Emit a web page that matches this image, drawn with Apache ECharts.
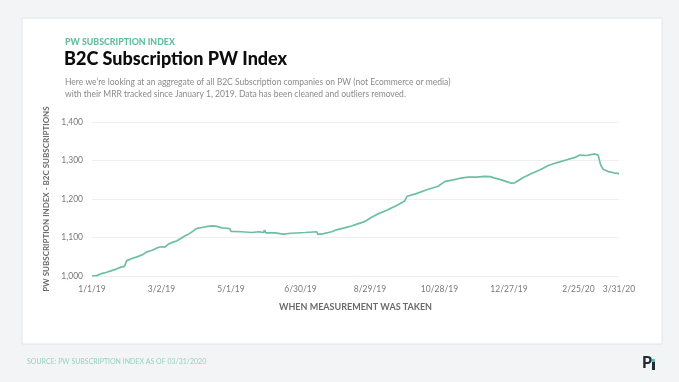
<!DOCTYPE html>
<html>
<head>
<meta charset="utf-8">
<script src="https://cdn.jsdelivr.net/npm/echarts@6/dist/echarts.min.js"></script>
<style>
html,body{margin:0;padding:0;background:#f3f4f6;}
#chart{width:679px;height:382px;}
</style>
</head>
<body>
<div id="chart"></div>
<script>
// ---- data ----
var dates = [
 '2019-01-01','2019-01-05','2019-01-09','2019-01-13','2019-01-18','2019-01-22','2019-01-26','2019-01-29','2019-01-31',
 '2019-02-05','2019-02-10','2019-02-14','2019-02-17','2019-02-22','2019-02-27','2019-03-02','2019-03-05','2019-03-08',
 '2019-03-12','2019-03-15','2019-03-19','2019-03-22','2019-03-26','2019-03-29','2019-04-01','2019-04-06','2019-04-11',
 '2019-04-15','2019-04-19','2019-04-23','2019-04-27','2019-04-30','2019-05-01','2019-05-10','2019-05-19','2019-05-25',
 '2019-05-29','2019-05-30','2019-05-31','2019-06-08','2019-06-15','2019-06-22','2019-07-04','2019-07-14','2019-07-15',
 '2019-07-20','2019-07-27','2019-07-31','2019-08-07','2019-08-13','2019-08-19','2019-08-23','2019-08-26','2019-08-30',
 '2019-09-04','2019-09-12','2019-09-21','2019-09-28','2019-09-30','2019-10-08','2019-10-17','2019-10-27','2019-10-30',
 '2019-11-02','2019-11-08','2019-11-15','2019-11-22','2019-11-29','2019-12-06','2019-12-11','2019-12-14','2019-12-19',
 '2019-12-25','2019-12-29','2020-01-01','2020-01-08','2020-01-16','2020-01-23','2020-01-30','2020-02-06','2020-02-15',
 '2020-02-22','2020-02-26','2020-03-03','2020-03-10','2020-03-13','2020-03-15','2020-03-17','2020-03-22','2020-03-28',
 '2020-03-31'
];
var values = [
 1000,1001,1006,1009,1014,1018,1023,1025,1040,
 1046,1051,1056,1062,1067,1074,1076,1075,1083,
 1088,1091,1098,1104,1110,1116,1123,1126,1129,
 1130,1129,1125,1124,1123,1116,1115,1113,1115,
 1113,1119,1112,1112,1109,1111,1113,1115,1108,
 1110,1115,1120,1125,1130,1136,1140,1144,1152,
 1160,1170,1183,1195,1207,1214,1224,1233,1240,
 1246,1249,1254,1257,1257,1259,1258,1255,1251,
 1245,1241,1242,1255,1267,1276,1287,1294,1302,
 1308,1314,1313,1317,1314,1290,1278,1271,1267,
 1266
];
var xTickLabels = ['1/1/19','3/2/19','5/1/19','6/30/19','8/29/19','10/28/19','12/27/19','2/25/20','3/31/20'];
var yTicks = [1000, 1100, 1200, 1300, 1400];

var startDate = '2019-01-01';
var endDate = '2020-03-31';

function dayOf(s) {
  var p = s.split('-');
  return Math.round((Date.UTC(+p[0], +p[1]-1, +p[2]) - Date.UTC(2019,0,1)) / 864e5);
}
function dayOfLabel(l) {
  var p = l.split('/');
  return dayOf((2000 + +p[2]) + '-' + p[0] + '-' + p[1]);
}
var tickMap = {};
xTickLabels.forEach(function (l) { tickMap[dayOfLabel(l)] = l; });

var seriesData = dates.map(function (d, i) { return [dayOf(d), values[i]]; });

var FONT = 'Lato';
var chart = echarts.init(document.getElementById('chart'), null, {renderer: 'canvas'});
chart.setOption({
  backgroundColor: '#f3f4f6',
  animation: false,
  grid: {left: 92, right: 60, top: 122, bottom: 106},
  graphic: [
    {type: 'rect', z: -10, shape: {x: 22, y: 18, width: 640, height: 326},
     style: {fill: '#ffffff', stroke: '#e2e4e7', lineWidth: 1}},
    {type: 'text', left: 65, top: 38, style: {text: 'PW SUBSCRIPTION INDEX', fill: '#5fbf9f',
      font: '900 8.8px ' + FONT}},
    {type: 'text', left: 64, top: 50, style: {text: 'B2C Subscription PW Index', fill: '#0d0d0d',
      font: '900 18px ' + FONT}},
    {type: 'text', left: 65, top: 76, style: {text: 'Here we\u2019re looking at an aggregate of all B2C Subscription companies on PW (not Ecommerce or media)\nwith their MRR tracked since January 1, 2019. Data has been cleaned and outliers removed.',
      fill: '#8a8a8a', font: '8.5px ' + FONT, lineHeight: 12}},
    {type: 'text', left: 27, top: 358, style: {text: 'SOURCE: PW SUBSCRIPTION INDEX AS OF 03/31/2020', fill: '#93d3bd',
      font: '7px ' + FONT}},
    {type: 'text', left: 642, top: 355, style: {text: 'P', fill: '#1f2b38', font: '900 16px ' + FONT}},
    {type: 'rect', shape: {x: 652, y: 362, width: 3, height: 8}, style: {fill: '#1f2b38'}},
    {type: 'rect', shape: {x: 652, y: 359, width: 3, height: 3}, style: {fill: '#5fbf9f'}}
  ],
  xAxis: {
    type: 'value',
    min: dayOf(startDate), max: dayOf(endDate), interval: 60,
    name: 'WHEN MEASUREMENT WAS TAKEN',
    nameLocation: 'middle', nameGap: 27,
    nameTextStyle: {color: '#6b6b6b', fontFamily: FONT, fontSize: 9, fontWeight: 'bold'},
    axisLine: {show: false}, axisTick: {show: false}, splitLine: {show: false},
    axisLabel: {color: '#7a7a7a', fontFamily: FONT, fontSize: 8.5, margin: 9,
      formatter: function (v) { return tickMap[v] || ''; }}
  },
  yAxis: {
    type: 'value', min: yTicks[0], max: yTicks[yTicks.length-1], interval: 100,
    name: 'PW SUBSCRIPTION INDEX - B2C SUBSCRIPTIONS',
    nameLocation: 'middle', nameGap: 35,
    nameTextStyle: {color: '#6b6b6b', fontFamily: FONT, fontSize: 8, fontWeight: 'bold'},
    axisLine: {show: false}, axisTick: {show: false},
    splitLine: {lineStyle: {color: '#eeeeee', width: 1}},
    axisLabel: {color: '#7a7a7a', fontFamily: FONT, fontSize: 8.5, margin: 9,
      formatter: function (v) { return v.toLocaleString('en-US'); }}
  },
  series: [{
    type: 'line', data: seriesData, showSymbol: false, smooth: false,
    lineStyle: {color: '#6cbfa2', width: 1.7}
  }]
});
</script>
</body>
</html>
